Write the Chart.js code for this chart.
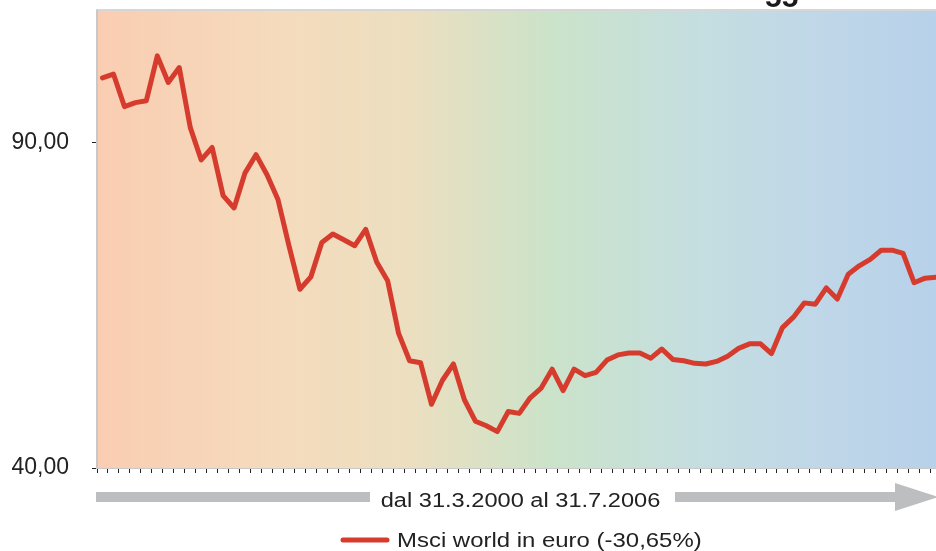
<!DOCTYPE html>
<html>
<head>
<meta charset="utf-8">
<script src="https://cdn.jsdelivr.net/npm/chart.js@4.4.1/dist/chart.umd.min.js"></script>
<style>
  body { margin: 0; background: #fff; }
  #wrap { width: 936px; height: 551px; position: relative; }
</style>
</head>
<body>
<div id="wrap"><canvas id="msciChart"></canvas></div>
<script>
// monthly closes, 31.3.2000 = 100
const months = [
  '03/00','04/00','05/00','06/00','07/00','08/00','09/00','10/00','11/00','12/00',
  '01/01','02/01','03/01','04/01','05/01','06/01','07/01','08/01','09/01','10/01','11/01','12/01',
  '01/02','02/02','03/02','04/02','05/02','06/02','07/02','08/02','09/02','10/02','11/02','12/02',
  '01/03','02/03','03/03','04/03','05/03','06/03','07/03','08/03','09/03','10/03','11/03','12/03',
  '01/04','02/04','03/04','04/04','05/04','06/04','07/04','08/04','09/04','10/04','11/04','12/04',
  '01/05','02/05','03/05','04/05','05/05','06/05','07/05','08/05','09/05','10/05','11/05','12/05',
  '01/06','02/06','03/06','04/06','05/06','06/06','07/06'
];
const msciWorld = [
  100.0, 100.6, 95.6, 96.2, 96.5, 103.4, 99.3, 101.6, 92.4, 87.4,
  89.3, 81.9, 80.0, 85.4, 88.2, 85.1, 81.3, 74.2, 67.5, 69.4, 74.7, 76.0,
  75.1, 74.2, 76.7, 71.7, 68.8, 60.7, 56.5, 56.2, 49.8, 53.5, 56.0, 50.5,
  47.2, 46.5, 45.6, 48.7, 48.4, 50.8, 52.3, 55.2, 51.9, 55.2, 54.2, 54.7,
  56.6, 57.4, 57.7, 57.7, 56.9, 58.3, 56.7, 56.5, 56.1, 56.0, 56.4, 57.2,
  58.4, 59.1, 59.1, 57.6, 61.6, 63.2, 65.4, 65.2, 67.7, 66.0, 69.8, 71.1,
  72.1, 73.5, 73.5, 73.0, 68.5, 69.2, 69.35
];
const yTicks = [40, 90];
const seriesLabel = 'Msci world in euro (-30,65%)';
const periodText = 'dal 31.3.2000 al 31.7.2006';

const redLine = '#d63c2e';
const greyArrow = '#bdbec0';

const bgPlugin = {
  id: 'bg',
  beforeDraw(chart) {
    const { ctx, chartArea: a } = chart;
    const g = ctx.createLinearGradient(a.left, 0, a.right, 0);
    g.addColorStop(0, '#facdb2');
    g.addColorStop(0.22, '#f5dbbd');
    g.addColorStop(0.38, '#ebdfc0');
    g.addColorStop(0.54, '#cbe3c9');
    g.addColorStop(0.72, '#c4dee1');
    g.addColorStop(0.86, '#bfd7e7');
    g.addColorStop(1, '#b7d1ea');
    ctx.save();
    ctx.fillStyle = g;
    ctx.fillRect(a.left, a.top, a.right - a.left, a.bottom - a.top);
    // top frame line
    ctx.strokeStyle = '#c8c8c8';
    ctx.lineWidth = 1.5;
    ctx.beginPath();
    ctx.moveTo(a.left - 1, a.top - 1);
    ctx.lineTo(a.right, a.top - 1);
    ctx.stroke();
    ctx.restore();
  }
};

const footPlugin = {
  id: 'foot',
  afterDraw(chart) {
    const ctx = chart.ctx;
    ctx.save();
    // page number cut at top
    ctx.fillStyle = '#1a1a1a';
    ctx.font = 'bold 30px "Liberation Sans", Arial, sans-serif';
    ctx.textAlign = 'left';
    ctx.textBaseline = 'alphabetic';
    ctx.fillText('55', 765, 7);

    // time arrow
    ctx.fillStyle = greyArrow;
    ctx.fillRect(96, 492, 274, 10);
    ctx.fillRect(675, 492, 222, 10);
    ctx.beginPath();
    ctx.moveTo(895, 483);
    ctx.lineTo(938, 497);
    ctx.lineTo(895, 511);
    ctx.closePath();
    ctx.fill();

    ctx.fillStyle = '#222';
    ctx.font = '20px "Liberation Sans", Arial, sans-serif';
    ctx.save();
    ctx.translate(520.5, 507);
    ctx.scale(1.18, 1);
    ctx.textAlign = 'center';
    ctx.fillText(periodText, 0, 0);
    ctx.restore();

    // legend
    ctx.strokeStyle = redLine;
    ctx.lineWidth = 5;
    ctx.lineCap = 'round';
    ctx.beginPath();
    ctx.moveTo(343, 540);
    ctx.lineTo(387, 540);
    ctx.stroke();
    ctx.font = '21px "Liberation Sans", Arial, sans-serif';
    ctx.save();
    ctx.translate(397, 547);
    ctx.scale(1.14, 1);
    ctx.textAlign = 'left';
    ctx.fillText(chart.data.datasets[0].label, 0, 0);
    ctx.restore();
    ctx.restore();
  }
};

new Chart(document.getElementById('msciChart'), {
  type: 'line',
  data: {
    datasets: [{
      label: seriesLabel,
      data: msciWorld.map((v, i) => ({ x: i, y: v })),
      borderColor: redLine,
      borderWidth: 5,
      borderJoinStyle: 'round',
      borderCapStyle: 'round',
      pointRadius: 0,
      tension: 0,
      fill: false,
      clip: false
    }]
  },
  options: {
    responsive: true,
    maintainAspectRatio: false,
    animation: false,
    devicePixelRatio: 1,
    layout: { padding: { top: 11, right: 0, left: 0, bottom: 0 } },
    plugins: { legend: { display: false }, tooltip: { enabled: false } },
    scales: {
      x: {
        type: 'linear',
        min: -0.5,
        max: months.length - 1,
        afterBuildTicks(scale) {
          scale.ticks = months.slice(0, -1).map((m, i) => ({ value: i + 0.5 }));
          scale.ticks.unshift({ value: -0.5 });
        },
        afterFit(scale) {
          scale.height = 83;
          scale.paddingLeft = 0;
          scale.paddingRight = 0;
        },
        ticks: { display: false },
        grid: { drawOnChartArea: false, drawTicks: true, tickLength: 5, color: '#222', lineWidth: 1 },
        border: { display: true, color: '#c8c8c8', width: 1 }
      },
      y: {
        min: 40,
        max: 110.3,
        afterBuildTicks(scale) {
          scale.ticks = yTicks.map(v => ({ value: v }));
        },
        afterFit(scale) {
          scale.width = 97;
          scale.paddingTop = 0;
          scale.paddingBottom = 0;
        },
        ticks: {
          padding: 23,
          color: '#222',
          font: { size: 23, family: '"Liberation Sans", Arial, sans-serif' },
          callback: v => v.toFixed(2).replace('.', ',')
        },
        grid: { drawOnChartArea: false, drawTicks: true, tickLength: 5, color: '#222', lineWidth: 1 },
        border: { display: true, color: '#c8c8c8', width: 2 }
      }
    }
  },
  plugins: [bgPlugin, footPlugin]
});
</script>
</body>
</html>
